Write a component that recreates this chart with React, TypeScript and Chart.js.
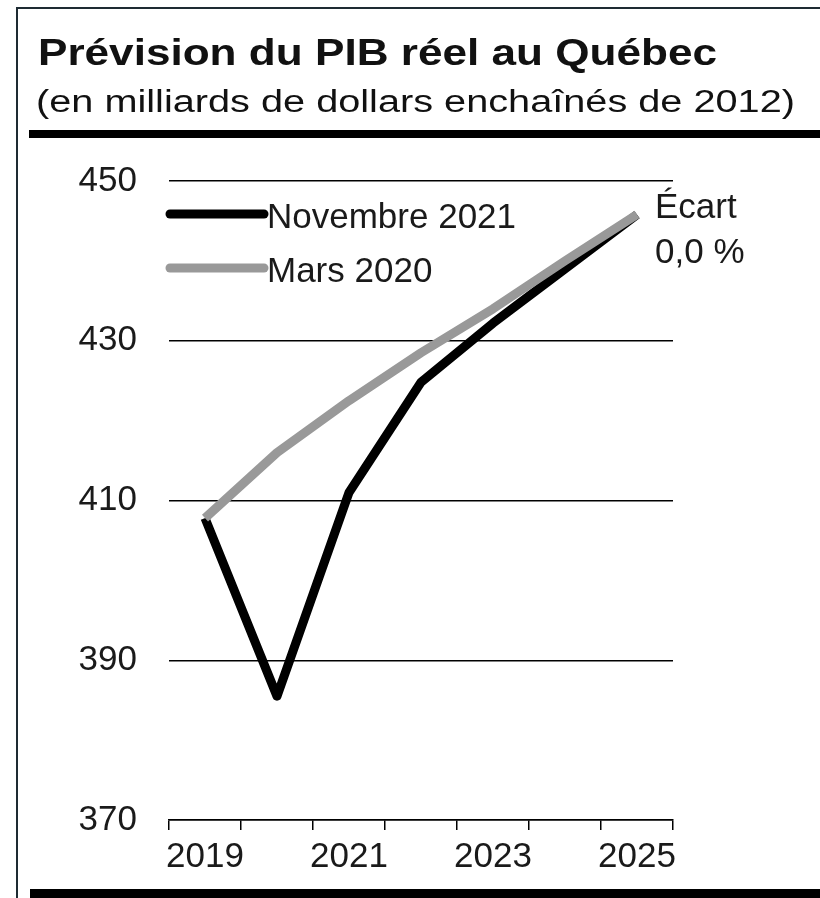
import React, { useEffect, useRef } from 'react';
import { Chart, registerables } from 'chart.js';

Chart.register(...registerables);

const years = ['2019', '2020', '2021', '2022', '2023', '2024', '2025'];
const novembre2021 = [407.8, 385.5, 411.0, 424.8, 432.2, 439.0, 445.8];
const mars2020 = [407.8, 416.0, 422.5, 428.5, 434.0, 440.0, 445.8];
const seriesLabels = ['Novembre 2021', 'Mars 2020'];
const seriesColors = ['#000000', '#999999'];
const yMin = 370;
const yMax = 450;
const yStep = 20;
const noteLines = ['Écart', '0,0 %'];
const titleText = 'Prévision du PIB réel au Québec';
const subtitleText = '(en milliards de dollars enchaînés de 2012)';

const FONT = '"Liberation Sans", Arial, Helvetica, sans-serif';
const TEXT = '#1a1a1a';

export default function App() {
  const ref = useRef<HTMLCanvasElement | null>(null);

  useEffect(() => {
    if (!ref.current) return;
    const overlay = {
      id: 'overlay',
      afterDatasetsDraw(chart: any) {
        const ctx = chart.ctx;
        const ds = chart.data.datasets;
        ctx.save();
        const rows = [214, 268];
        ds.forEach((d: any, i: number) => {
          const y = rows[i];
          ctx.strokeStyle = d.borderColor;
          ctx.lineWidth = 9;
          ctx.lineCap = 'round';
          ctx.beginPath();
          ctx.moveTo(170, y);
          ctx.lineTo(264, y);
          ctx.stroke();
          ctx.fillStyle = TEXT;
          ctx.font = `35px ${FONT}`;
          ctx.textAlign = 'left';
          ctx.textBaseline = 'alphabetic';
          ctx.fillText(d.label, 267, y + 14);
        });
        ctx.font = `35px ${FONT}`;
        ctx.fillStyle = TEXT;
        ctx.fillText(noteLines[0], 655, 218);
        ctx.fillText(noteLines[1], 655, 263);
        ctx.restore();
      },
    };

    const chart = new Chart(ref.current, {
      type: 'line',
      data: {
        labels: years,
        datasets: [
          {
            label: seriesLabels[0],
            data: novembre2021,
            borderColor: seriesColors[0],
            backgroundColor: seriesColors[0],
            borderWidth: 9,
            pointRadius: 0,
            tension: 0,
            borderCapStyle: 'butt',
            borderJoinStyle: 'round',
            order: 1,
          },
          {
            label: seriesLabels[1],
            data: mars2020,
            borderColor: seriesColors[1],
            backgroundColor: seriesColors[1],
            borderWidth: 9,
            pointRadius: 0,
            tension: 0,
            borderCapStyle: 'butt',
            borderJoinStyle: 'round',
            order: 0,
          },
        ],
      },
      options: {
        animation: false,
        responsive: false,
        maintainAspectRatio: false,
        devicePixelRatio: 1,
        layout: { padding: { left: 69, right: 147, top: 181, bottom: 18 } },
        plugins: {
          legend: { display: false },
          tooltip: { enabled: false },
          title: { display: false },
        },
        scales: {
          x: {
            type: 'category',
            offset: true,
            afterFit: (s: any) => {
              s.height = 60;
            },
            grid: {
              offset: true,
              drawOnChartArea: false,
              drawTicks: true,
              tickLength: 10,
              color: '#000',
              lineWidth: 1.5,
            },
            border: { display: true, color: '#000', width: 1.5 },
            ticks: {
              autoSkip: false,
              maxRotation: 0,
              minRotation: 0,
              padding: 6,
              color: TEXT,
              font: { family: FONT, size: 35 },
              callback: (_v: any, i: number) => (i % 2 === 0 ? years[i] : ''),
            },
          },
          y: {
            min: yMin,
            max: yMax,
            afterFit: (s: any) => {
              s.width = 100;
            },
            grid: {
              drawTicks: false,
              color: '#000',
              lineWidth: 1.5,
            },
            border: { display: false },
            ticks: {
              stepSize: yStep,
              padding: 32,
              color: TEXT,
              font: { family: FONT, size: 35 },
            },
          },
        },
      },
      plugins: [overlay],
    });
    return () => chart.destroy();
  }, []);

  return (
    <div
      style={{
        position: 'absolute',
        left: 0,
        top: 0,
        width: 820,
        height: 898,
        background: '#fff',
        overflow: 'hidden',
      }}
    >
      <canvas
        ref={ref}
        width={820}
        height={898}
        style={{ position: 'absolute', left: 0, top: 0, width: 820, height: 898 }}
      />
      <svg
        width={820}
        height={898}
        style={{ position: 'absolute', left: 0, top: 0, pointerEvents: 'none' }}
      >
        <rect x={16} y={7} width={2} height={891} fill="#1e2b33" />
        <rect x={16} y={7} width={804} height={2} fill="#1e2b33" />
        <rect x={29} y={130} width={791} height={8} fill="#000" />
        <rect x={30} y={889} width={790} height={9} fill="#000" />
        <text
          x={38}
          y={65}
          fontFamily={FONT}
          fontWeight="bold"
          fontSize={37}
          fill="#111"
          textLength={679}
          lengthAdjust="spacingAndGlyphs"
        >
          {titleText}
        </text>
        <text
          x={36}
          y={112}
          fontFamily={FONT}
          fontSize={31}
          fill="#111"
          textLength={759}
          lengthAdjust="spacingAndGlyphs"
        >
          {subtitleText}
        </text>
      </svg>
    </div>
  );
}
